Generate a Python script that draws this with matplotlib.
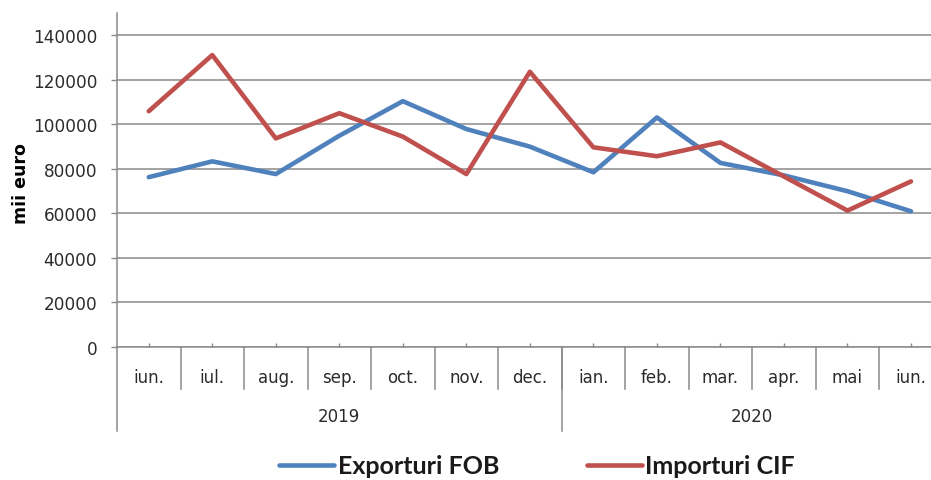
import matplotlib
matplotlib.use("Agg")
import matplotlib.pyplot as plt

months = ["iun.", "iul.", "aug.", "sep.", "oct.", "nov.", "dec.",
          "ian.", "feb.", "mar.", "apr.", "mai", "iun."]
years = ["2019", "2020"]
year_of_month = [0, 0, 0, 0, 0, 0, 0, 1, 1, 1, 1, 1, 1]
exporturi = [76200, 83300, 77600, 94800, 110300, 97800, 89900,
             78400, 103000, 82600, 77000, 69900, 60900]
importuri = [105800, 131000, 93600, 104900, 94400, 77600, 123500,
             89600, 85600, 91800, 76500, 61200, 74300]
series_names = ["Exporturi FOB", "Importuri CIF"]
yticks = [0, 20000, 40000, 60000, 80000, 100000, 120000, 140000]

W, H = 931, 481
fig = plt.figure(figsize=(W / 100, H / 100), dpi=100)
x0, x1, ytop, ybot = 117, 942.75, 13.7, 348
ax = fig.add_axes([x0 / W, (H - ybot) / H, (x1 - x0) / W, (ybot - ytop) / H])

blue = "#4F81BD"
red = "#C0504D"
gray = "#8A8A8A"
txt = "#2b2b2b"

xs = list(range(len(months)))
l1, = ax.plot(xs, exporturi, color=blue, lw=3.3, solid_joinstyle="round",
              solid_capstyle="round", label=series_names[0], zorder=3)
l2, = ax.plot(xs, importuri, color=red, lw=3.3, solid_joinstyle="round",
              solid_capstyle="round", label=series_names[1], zorder=3)

ax.set_xlim(-0.5, len(months) - 0.5)
ax.set_ylim(0, 150000)
ax.set_yticks(yticks)
ax.set_yticklabels([str(v) for v in yticks], fontsize=12.2, color=txt,
                   family="DejaVu Sans")
ax.yaxis.grid(True, color=gray, lw=1.1)
ax.set_axisbelow(True)
ax.tick_params(axis="y", direction="out", length=4.3, width=1.0, color=gray, pad=10)
ax.set_xticks(xs)
ax.set_xticklabels([])
ax.tick_params(axis="x", direction="in", length=3, width=1.0, color=gray)

for s in ["top", "right"]:
    ax.spines[s].set_visible(False)
for s in ["left", "bottom"]:
    ax.spines[s].set_color(gray)
    ax.spines[s].set_linewidth(1.1)

axh = ybot - ytop
tr = ax.get_xaxis_transform()
# category separators
for i in range(1, len(months)):
    ax.plot([i - 0.5, i - 0.5], [0, -(390 - ybot) / axh], transform=tr,
            color=gray, lw=1.1, clip_on=False)
# year separators
bounds = [-0.5]
for i in range(1, len(months)):
    if year_of_month[i] != year_of_month[i - 1]:
        bounds.append(i - 0.5)
bounds.append(len(months) - 0.5)
for b in bounds:
    ax.plot([b, b], [0, -(432 - ybot) / axh], transform=tr,
            color=gray, lw=1.1, clip_on=False)

for i, m in enumerate(months):
    ax.text(i, -(378 - ybot) / axh, m, transform=tr, ha="center", va="center",
            fontsize=12, color=txt, family="DejaVu Sans")
for k, yname in enumerate(years):
    idx = [i for i in xs if year_of_month[i] == k]
    ax.text(sum(idx) / len(idx), -(417 - ybot) / axh, yname, transform=tr,
            ha="center", va="center", fontsize=12, color=txt, family="DejaVu Sans")

fig.text(21.5 / W, 1 - 184 / H, "mii euro", rotation=90, ha="center", va="center",
         fontsize=12.5, fontweight="bold", color="black", family="DejaVu Sans")

fig.legend(handles=[l1, l2], loc="center", bbox_to_anchor=(537 / W, 1 - 467 / H),
           ncol=2, frameon=False, handlelength=2.2, handletextpad=0.15,
           columnspacing=3.5, prop={"family": "Lato", "size": 18, "weight": "bold"},
           labelcolor="#1a1a1a")

fig.savefig("out.png", dpi=100)
